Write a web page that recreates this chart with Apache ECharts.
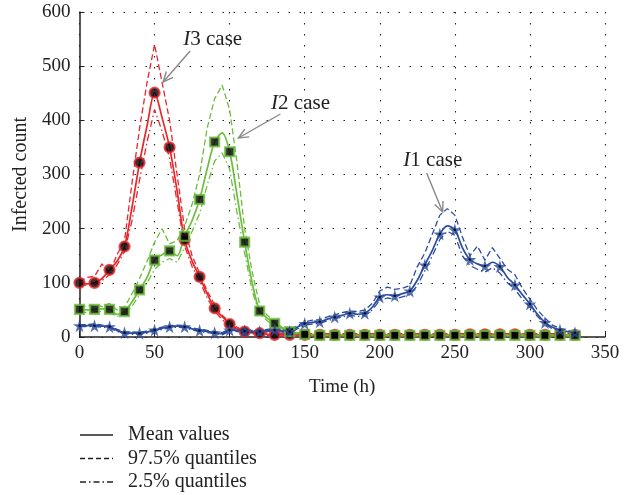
<!DOCTYPE html>
<html><head><meta charset="utf-8">
<script src="https://cdn.jsdelivr.net/npm/echarts@6/dist/echarts.min.js"></script>
<style>html,body{margin:0;padding:0;background:#fff}#c{width:638px;height:495px}</style>
</head><body><div id="c"></div>
<script>
const hours = [0,5,10,15,20,25,30,35,40,45,50,55,60,65,70,75,80,85,90,95,100,105,110,115,120,125,130,135,140,145,150,155,160,165,170,175,180,185,190,195,200,205,210,215,220,225,230,235,240,245,250,255,260,265,270,275,280,285,290,295,300,305,310,315,320,325,330];

const redMean = [100,98,100,108,124,140,167,240,322,390,451,405,350,270,179,140,111,80,53,38,24,15,10,8,7,5,4,
  4,4,4,4,4,4,4,4,4,4,4,4,4,4,4,4,4,4,4,4,4,4,4,4,5,5,5,5,5,5,5,5,5,4,4,4,4,4,4,4];
const redHi = [102,110,112,135,118,152,178,285,385,470,540,470,400,300,200,150,118,85,60,40,28,18,12,9,8,7,6,
  6,6,6,6,6,6,6,6,6,6,6,6,6,6,6,6,6,6,6,6,6,6,6,6,6,6,6,6,6,6,6,6,6,6,6,6,6,6,6,6];
const redLo = [98,95,96,104,115,133,158,215,290,360,420,380,330,250,168,130,104,72,48,32,20,12,8,6,5,3,2,
  2,2,2,2,2,2,2,2,2,2,2,2,2,2,2,2,2,2,2,2,2,2,2,2,2,2,2,2,2,2,2,2,2,2,2,2,2,2,2,2];

const greenMean = [51,50,51,52,51,42,47,65,87,110,142,152,159,150,186,215,254,310,360,377,342,260,175,100,48,35,25,16,10,7,5,4,
  3,3,3,3,3,3,3,3,3,3,3,3,3,3,3,3,3,3,3,3,3,3,3,3,3,3,3,3,3,3,3,3,3,3,3];
const greenHi = [55,57,60,56,62,50,55,80,108,140,175,200,172,178,205,245,300,385,440,465,420,320,200,120,60,40,28,18,12,8,6,5,
  4,4,4,4,4,4,4,4,4,4,4,4,4,4,4,4,4,4,4,4,4,4,4,4,4,4,4,4,4,4,4,4,4,4,4];
const greenLo = [47,45,47,47,45,38,42,57,78,100,125,138,145,138,165,195,228,280,325,340,310,228,155,85,42,30,20,12,8,5,3,2,
  2,2,2,2,2,2,2,2,2,2,2,2,2,2,2,2,2,2,2,2,2,2,2,2,2,2,2,2,2,2,2,2,2,2,2];

const blueMean = [21,21,21,20,19,12,8,7,7,9, 13,16,19,20,19,15,12,10,8,6, 13,12,11,10,10,12,13,11,10,18,
  25,27,28,33,37,40,44,42,44,55, 74,78,76,80,85,105,133,160,190,205, 198,165,143,135,131,138,130,110,96,78, 61,42,27,18,13,10,8];
const blueHi = [23,23,24,22,21,14,10,9,9,11, 15,18,21,22,21,17,14,12,10,8, 15,14,13,12,12,14,15,13,12,21,
  28,31,32,37,41,45,48,47,50,62, 85,92,88,90,95,130,155,190,225,237, 225,185,150,168,142,165,145,125,115,90, 70,50,35,22,16,12,10];
const blueLo = [19,19,19,18,17,10,6,5,5,7, 11,14,17,18,17,13,10,8,6,4, 11,10,9,8,8,10,11,9,8,15,
  22,24,25,30,34,37,40,38,40,50, 68,72,70,74,78,95,122,150,180,195, 188,150,132,125,120,128,118,100,88,70, 55,38,24,15,11,8,6];

const xTicks = [0,50,100,150,200,250,300,350];
const yTicks = [0,100,200,300,400,500,600];

const annotNames = ['3 case','2 case','1 case'];
const annotText = [[69.1,550],[127.6,432],[215.7,325]];
const annotFrom = [[73.7,528],[133.8,411.7],[231.2,302.8]];
const annotTo = [[55.7,470.8],[105.8,367.4],[241.9,230.8]];

const legendLabels = ['Mean values','97.5% quantiles','2.5% quantiles'];

const FONT = '"Liberation Serif","DejaVu Serif",serif';
const RED = '#e8262b', GREEN = '#6cbd3c', BLUE = '#2b4b9e';
const STAR = 'path://M50,0 L61,35 L98,35 L68,57 L79,91 L50,70 L21,91 L32,57 L2,35 L39,35 Z';

function pairs(v){ return hours.map((h,i)=>[h,v[i]]); }
function marks(v){ return hours.map((h,i)=>[h,v[i]]).filter(p=>p[0]%10===0); }

function lineSeries(v,color,kind){
  const t = kind==='mean' ? 'solid' : (kind==='hi' ? [6,3] : [7,3,1.5,3]);
  return {type:'line', data:pairs(v), showSymbol:false, symbol:'none', smooth: kind==='mean'?0.3:false,
    lineStyle:{color:color, width: kind==='mean'?1.7:1.3, type:t}, silent:true, animation:false, z:2};
}

const chart = echarts.init(document.getElementById('c'), null, {renderer:'canvas'});
const series = [
  lineSeries(redHi,RED,'hi'), lineSeries(redLo,RED,'lo'), lineSeries(redMean,RED,'mean'),
  lineSeries(greenHi,GREEN,'hi'), lineSeries(greenLo,GREEN,'lo'), lineSeries(greenMean,GREEN,'mean'),
  lineSeries(blueHi,BLUE,'hi'), lineSeries(blueLo,BLUE,'lo'), lineSeries(blueMean,BLUE,'mean'),
  {type:'scatter', data:marks(redMean), symbol:'circle', symbolSize:10, itemStyle:{color:'#000', borderColor:RED, borderWidth:2.2}, z:5, animation:false, silent:true},
  {type:'scatter', data:marks(greenMean), symbol:'rect', symbolSize:9, itemStyle:{color:'#000', borderColor:GREEN, borderWidth:2.2}, z:6, animation:false, silent:true},
  {type:'scatter', data:marks(blueMean), symbol:STAR, symbolSize:13, itemStyle:{color:BLUE}, z:7, animation:false, silent:true},
  {type:'scatter', data:marks(blueMean), symbol:'circle', symbolSize:2.5, itemStyle:{color:'#000'}, z:8, animation:false, silent:true}
];

const gridLine = {show:true, lineStyle:{color:'#222', type:[1.5,9.5], width:1.1}};
chart.setOption({
  animation:false,
  backgroundColor:'#fff',
  grid:{left:79.5, right:33, top:12, bottom:158, containLabel:false},
  xAxis:{type:'value', min:xTicks[0], max:xTicks[xTicks.length-1], interval:50,
    name:'Time (h)', nameLocation:'middle', nameGap:41,
    nameTextStyle:{fontFamily:FONT, fontSize:19, color:'#222'},
    axisLine:{show:true, onZero:false, lineStyle:{color:'#222', width:1.5}},
    axisTick:{show:true, inside:true, length:5, lineStyle:{color:'#222'}},
    axisLabel:{fontFamily:FONT, fontSize:19, color:'#222', margin:7},
    splitLine:gridLine},
  yAxis:{type:'value', min:yTicks[0], max:yTicks[yTicks.length-1], interval:100,
    name:'Infected count', nameLocation:'middle', nameGap:49,
    nameTextStyle:{fontFamily:FONT, fontSize:20, color:'#222'},
    axisLine:{show:true, lineStyle:{color:'#222', width:1.5}},
    axisTick:{show:true, inside:true, length:5, lineStyle:{color:'#222'}},
    axisLabel:{fontFamily:FONT, fontSize:19, color:'#222', margin:9},
    splitLine:gridLine},
  series:series
});

const gfx = [];
annotNames.forEach((nm,i)=>{
  const p = chart.convertToPixel({gridIndex:0}, annotText[i]);
  const a = chart.convertToPixel({gridIndex:0}, annotFrom[i]);
  const b = chart.convertToPixel({gridIndex:0}, annotTo[i]);
  gfx.push({type:'text', x:p[0], y:p[1], z:20,
    style:{text:'{i|I}{n|'+nm+'}', verticalAlign:'middle', align:'left',
      rich:{i:{fontFamily:FONT, fontStyle:'italic', fontSize:21, fill:'#222'}, n:{fontFamily:FONT, fontSize:21, fill:'#222'}}}});
  gfx.push({type:'line', z:20, shape:{x1:a[0],y1:a[1],x2:b[0],y2:b[1]}, style:{stroke:'#888', lineWidth:1.4}});
  const ang = Math.atan2(a[1]-b[1], a[0]-b[0]);
  const L = 11, sp = 0.42;
  gfx.push({type:'polyline', z:20, shape:{points:[
    [b[0]+L*Math.cos(ang+sp), b[1]+L*Math.sin(ang+sp)], [b[0],b[1]],
    [b[0]+L*Math.cos(ang-sp), b[1]+L*Math.sin(ang-sp)]]}, style:{stroke:'#888', lineWidth:1.4, fill:null}});
});
const legendTypes = [null, [5,3], [6,3,1.5,3]];
legendLabels.forEach((lab,i)=>{
  const y = 435 + i*23.5;
  gfx.push({type:'line', shape:{x1:80,y1:y,x2:113,y2:y}, style:{stroke:'#222', lineWidth:1.3, lineDash:legendTypes[i]}});
  gfx.push({type:'text', x:128, y:y, style:{text:lab, fontFamily:FONT, fontSize:20, fill:'#222', verticalAlign:'middle'}});
});
chart.setOption({graphic:gfx});
</script>
</body></html>
